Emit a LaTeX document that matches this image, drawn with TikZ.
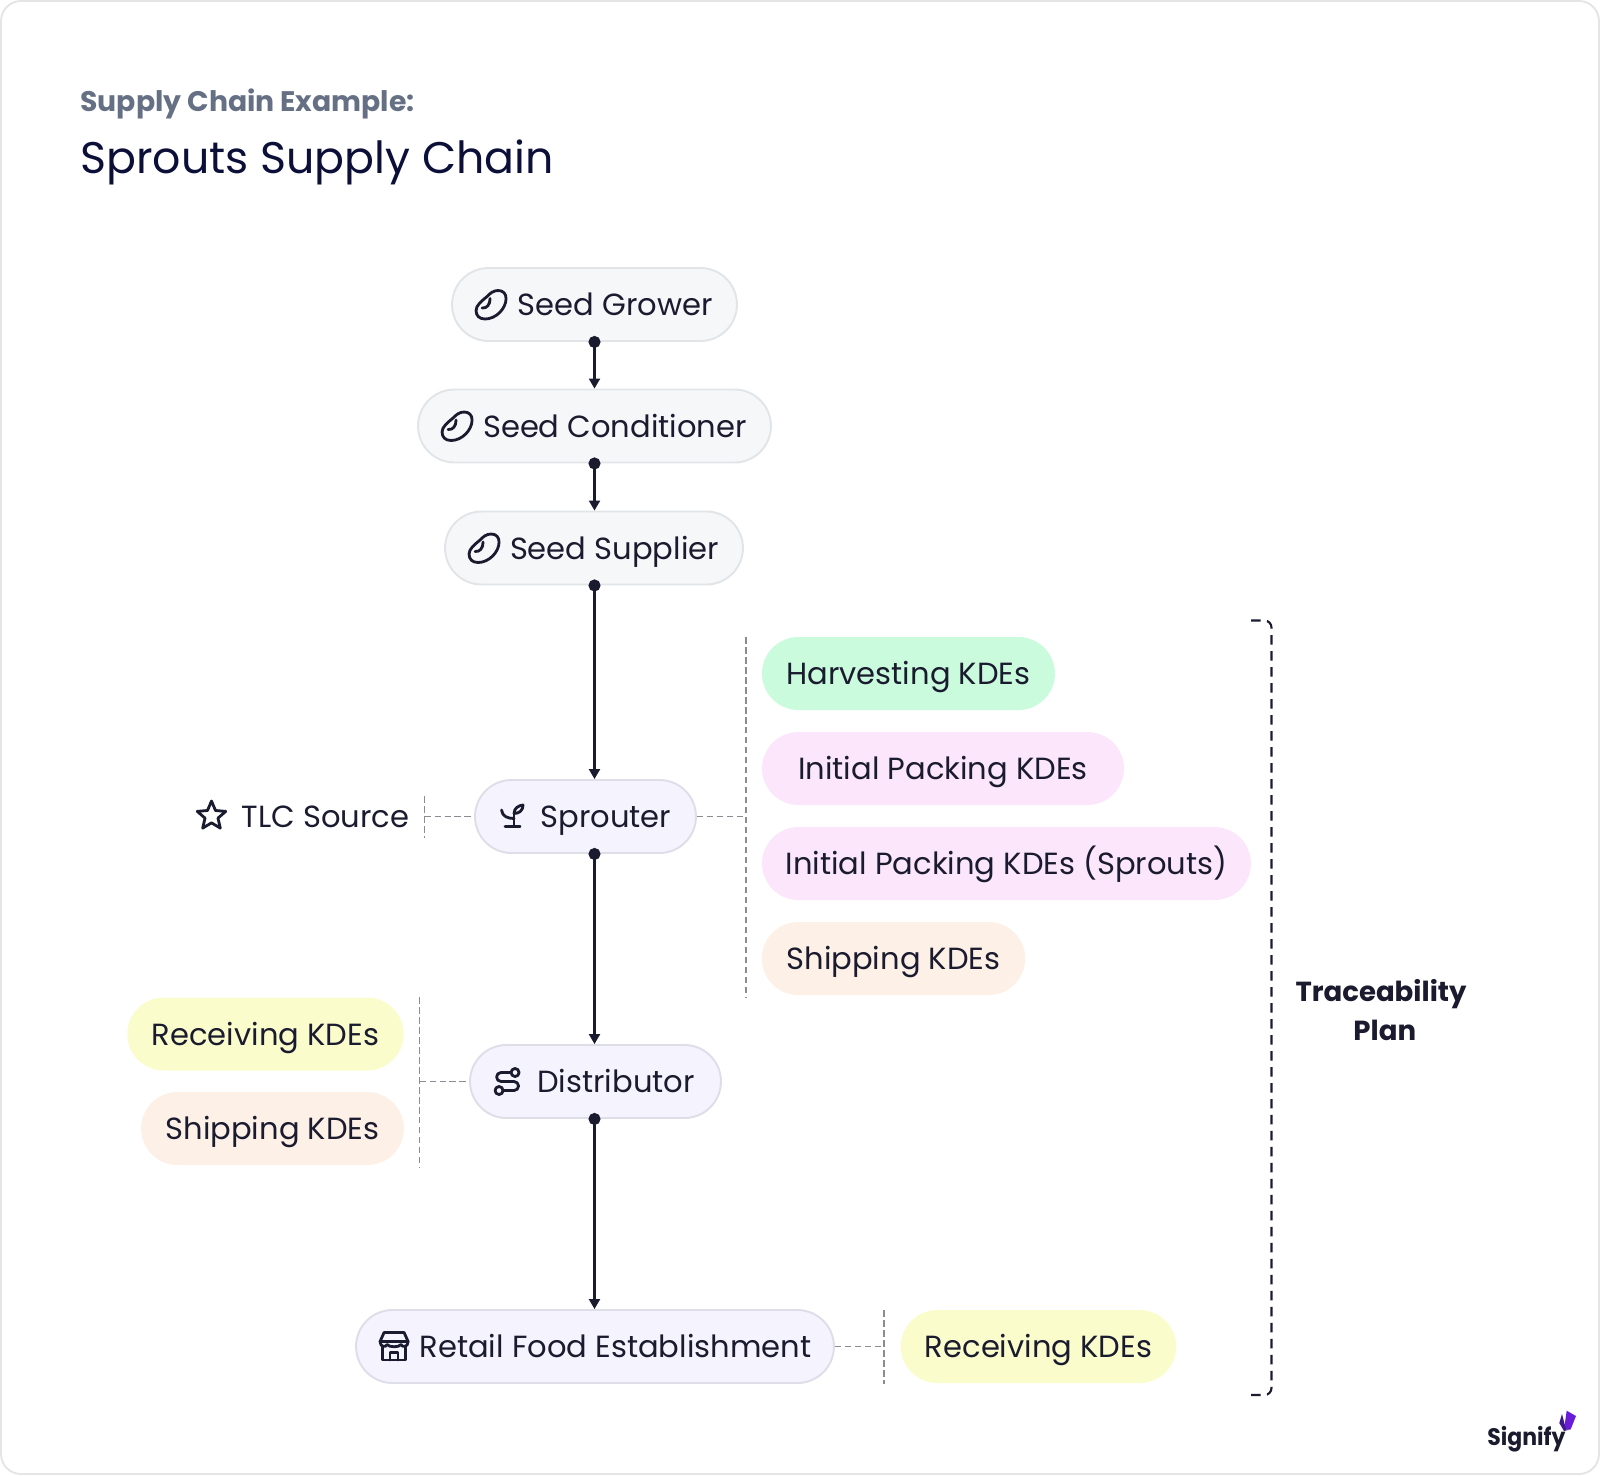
\documentclass[tikz,border=0pt]{standalone}
\usepackage{fontspec}
\setmainfont{Poppins}
\newfontfamily\logofont[FakeStretch=0.92]{Poppins}
\usetikzlibrary{arrows.meta,shapes.geometric}
\definecolor{ink}{HTML}{1B1B2F}
\definecolor{navy}{HTML}{0C0F38}
\definecolor{slate}{HTML}{667085}
\definecolor{dashgray}{HTML}{8A8C94}
\definecolor{seedfill}{HTML}{F5F7F9}
\definecolor{seedline}{HTML}{E2E5E7}
\definecolor{tracefill}{HTML}{F5F4FE}
\definecolor{traceline}{HTML}{DEDEE8}
\definecolor{kdegreen}{HTML}{CAFBDD}
\definecolor{kdepink}{HTML}{FCE6FB}
\definecolor{kdepeach}{HTML}{FDF0E7}
\definecolor{kdeyellow}{HTML}{FAFDCB}
\definecolor{logolight}{HTML}{6A1BD8}
\definecolor{logodark}{HTML}{3B1A8C}

\begin{document}
\begin{tikzpicture}[x=0.02cm, y=-0.02cm, line join=round, text=ink,
	pillbox/.style={rectangle, rounded corners=0.73cm, minimum height=1.46cm, inner xsep=0pt, inner ysep=0pt,
		text height=0.45cm, text depth=0pt, font=\fontsize{17.4}{20}\selectfont},
	seed stage/.style={pillbox, draw=seedline, fill=seedfill, line width=1.1pt},
	trace stage/.style={pillbox, draw=traceline, fill=tracefill, line width=1.1pt},
	green kde/.style={pillbox, fill=kdegreen},
	pink kde/.style={pillbox, fill=kdepink},
	peach kde/.style={pillbox, fill=kdepeach},
	yellow kde/.style={pillbox, fill=kdeyellow},
	flow/.style={{Circle[length=0.24cm]}-{Triangle[length=0.2cm,width=0.22cm]}, draw=ink, line width=1.2pt, shorten <=-0.12cm},
	tie/.style={draw=dashgray, line width=0.75pt, dash pattern=on 0.13cm off 0.07cm},
	plan bracket/.style={draw=ink, line width=1.2pt, rounded corners=0.14cm, dash pattern=on 0.19cm off 0.13cm},
	icon line/.style={draw=ink, line width=1.6pt, line cap=round, fill=none},
	bean/.pic={
		\draw[icon line] (-4,-8) .. controls (-1,-11) and (2,-14) .. (7,-14) .. controls (12,-14) and (15,-11) .. (15,-6)
			.. controls (15,4) and (5,14.5) .. (-6,14.5) .. controls (-12,14.5) and (-15,11) .. (-15,6)
			.. controls (-15,1) and (-10,-3) .. (-4,-8) -- cycle;
		\draw[icon line] (-9,3.5) .. controls (-4,4) and (-1,0) .. (-1,-6);
	},
	sprout/.pic={
		\draw[icon line] (-7,10) -- (8,10) (2,10) -- (2,-3);
		\draw[icon line] (2,2) .. controls (-4,2) and (-10,0) .. (-10.5,-6.5);
		\draw[icon line] (2,-3) .. controls (2,-8) and (6,-11) .. (11,-11.5) .. controls (11,-6) and (7,-3) .. (2,-3);
	},
	route/.pic={
		\draw[icon line] (4,-9) -- (-6,-9) arc[start angle=-90, end angle=-270, radius=4.5] -- (7,0)
			arc[start angle=-90, end angle=90, radius=4.5] -- (-4,9);
		\draw[icon line] (8,-9) circle[radius=4];
		\draw[icon line] (-8,9) circle[radius=4];
	},
	store/.pic={
		\draw[icon line] (-10,-14) -- (10,-14) -- (14,-5) .. controls (14,1) and (8,1) .. (7,-2)
			.. controls (5,1) and (-5,1) .. (-7,-2) .. controls (-8,1) and (-14,1) .. (-14,-5) -- cycle;
		\draw[icon line] (-14,-5) -- (14,-5);
		\draw[icon line] (-11.5,1) -- (-11.5,13.5) -- (11.5,13.5) -- (11.5,1);
		\draw[icon line] (-4,13.5) -- (-4,6) -- (4,6) -- (4,13.5);
	}]

	% Frame
	\useasboundingbox (0,0) rectangle (1600,1475);
	\draw[draw=black!10, line width=1.1pt, rounded corners=0.4cm] (1,1) rectangle (1599,1474);

	% Titles
	\node[anchor=base west, inner sep=0pt, text=slate, font=\fontsize{16.1}{20}\selectfont\bfseries] (kicker) at (80,111) {Supply Chain Example:};
	\node[anchor=base west, inner sep=0pt, text=navy, font=\fontsize{25.2}{30}\selectfont] (title) at (80,173) {Sprouts Supply Chain};

	% Supply chain stages
	\node[seed stage, minimum width=5.7cm] (grower) at (594.5,304.5) {\hspace*{0.82cm}Seed Grower};
	\node[seed stage, minimum width=7.06cm] (conditioner) at (594.5,426) {\hspace*{0.82cm}Seed Conditioner};
	\node[seed stage, minimum width=5.96cm] (supplier) at (594,548) {\hspace*{0.82cm}Seed Supplier};
	\node[trace stage, minimum width=4.42cm] (sprouter) at (585.5,816.5) {\hspace*{0.82cm}Sprouter};
	\node[trace stage, minimum width=5.02cm] (distributor) at (595.5,1081.5) {\hspace*{0.82cm}Distributor};
	\node[trace stage, minimum width=9.56cm] (retail) at (595,1346.5) {\hspace*{0.82cm}Retail Food Establishment};

	% Icons
	\foreach \stage in {grower, conditioner, supplier}
		\path (\stage.west) ++(40,0) pic {bean};
	\path (sprouter.west) ++(38,0) pic {sprout};
	\path (distributor.west) ++(38,0) pic {route};
	\path (retail.west) ++(39,0) pic {store};

	% KDE pills
	\node[green kde, minimum width=5.86cm] (harvest) at (908.5,673.5) {Harvesting KDEs};
	\node[pink kde, minimum width=7.24cm] (packing) at (943,768.5) {Initial Packing KDEs};
	\node[pink kde, minimum width=9.78cm] (packsprouts) at (1006.5,863.5) {Initial Packing KDEs (Sprouts)};
	\node[peach kde, minimum width=5.27cm] (shipright) at (893.5,958.5) {Shipping KDEs};
	\node[yellow kde, minimum width=5.53cm] (receiveleft) at (265.5,1034) {Receiving KDEs};
	\node[peach kde, minimum width=5.26cm] (shipleft) at (272.5,1128.5) {Shipping KDEs};
	\node[yellow kde, minimum width=5.51cm] (receiveright) at (1038.5,1346.5) {Receiving KDEs};

	% TLC source
	\node[star, star points=5, star point ratio=2.2, draw=ink, line width=1.6pt, minimum size=0.6cm, inner sep=0pt] (tlcstar) at (211.5,816) {};
	\node[anchor=east, inner sep=0pt, text height=0.45cm, text depth=0pt, font=\fontsize{17.4}{20}\selectfont] (tlc) at (409.5,816.5) {TLC Source};

	% Bars
	\coordinate (tlctop) at (424.5,796);
	\coordinate (tlcbot) at (424.5,838);
	\coordinate (righttop) at (746,637);
	\coordinate (rightbot) at (746,998);
	\coordinate (lefttop) at (419.5,997);
	\coordinate (leftbot) at (419.5,1167);
	\coordinate (retailtop) at (884,1310);
	\coordinate (retailbot) at (884,1384);
	\coordinate (plantop) at (1251,620.5);
	\coordinate (planbot) at (1251,1395);

	% Flow edges
	\path (grower.south) edge[flow] (conditioner.north);
	\path (conditioner.south) edge[flow] (supplier.north -| conditioner.south);
	\path (supplier.south -| conditioner.south) edge[flow] (sprouter.north -| conditioner.south);
	\path (sprouter.south -| conditioner.south) edge[flow] (distributor.north -| conditioner.south);
	\path (distributor.south -| conditioner.south) edge[flow] (retail.north -| conditioner.south);

	% Dashed ties
	\path (tlctop) edge[tie] (tlcbot);
	\path (righttop) edge[tie] (rightbot);
	\path (lefttop) edge[tie] (leftbot);
	\path (retailtop) edge[tie] (retailbot);
	\path (tlctop |- sprouter.west) edge[tie] (sprouter.west);
	\path (sprouter.east) edge[tie] (righttop |- sprouter.east);
	\path (lefttop |- distributor.west) edge[tie] (distributor.west);
	\path (retail.east) edge[tie] (retailtop |- retail.east);

	% Bracket
	\draw[plan bracket] (plantop) -- (1271.5,620.5) -- (1271.5,1395) -- (planbot);
	\node[align=center, inner sep=0pt, font=\fontsize{15.7}{22.6}\selectfont\bfseries] (plan) at (1381,1010) {Traceability\\\hspace*{0.15cm}Plan};

	% Logo
	\node[anchor=base west, inner sep=0pt, font=\logofont\fontsize{13.6}{16}\selectfont\bfseries] (signify) at (1487,1445) {Signify};
	\fill[logolight] (1566.7,1410.7) -- (1576,1416) -- (1570.7,1429.3) -- (1564,1429.3) -- cycle;
	\fill[logodark] (1562,1414) -- (1566,1429.3) -- (1570.7,1429.3) -- (1564,1431) -- (1559.3,1423) -- cycle;
\end{tikzpicture}
\end{document}
